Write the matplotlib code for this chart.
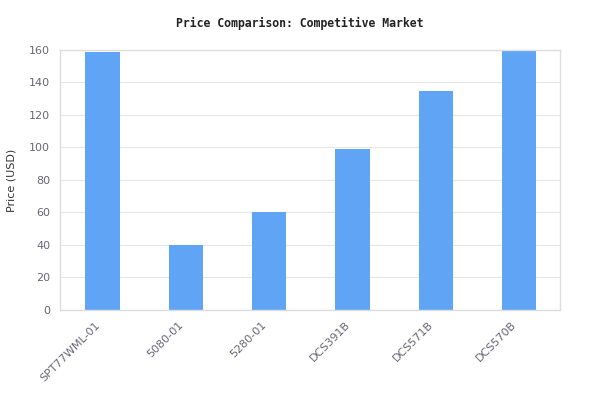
import matplotlib
matplotlib.use("Agg")
import matplotlib.pyplot as plt
import numpy as np

models = ["SPT77WML-01", "5080-01", "5280-01", "DCS391B", "DCS571B", "DCS570B"]
prices = [158.99, 39.99, 59.99, 98.99, 134.99, 159.99]

fig = plt.figure(figsize=(6, 4.2), dpi=100)
ax = fig.add_axes([0.1, 0.262, 0.8333, 0.619])

x = np.arange(len(models))
ax.bar(x + 0.01, prices, width=0.41, color="#60a5f5", zorder=2)

ax.set_xlim(-0.5, len(models) - 0.5)
ax.set_ylim(0, 160)
ax.set_yticks(np.arange(0, 161, 20))
ax.set_xticks(x)
ax.set_xticklabels([])

# rotated category labels, placed a bit left of each tick
for i, name in enumerate(models):
    ax.annotate(name, xy=(i, 0), xycoords=("data", "axes fraction"),
                xytext=(-5, -7), textcoords="offset points",
                rotation=45, rotation_mode="anchor", ha="right", va="top",
                fontsize=8, color="#666677")

ax.grid(axis="y", color="#e6e6e6", linewidth=0.8, zorder=0)
for s in ax.spines.values():
    s.set_color("#dddddd")
    s.set_linewidth(1)
ax.tick_params(axis="both", length=0, labelsize=8, colors="#666677", pad=7)

ax.set_ylabel("Price (USD)", fontsize=8, color="#333333", labelpad=9)
fig.text(0.5, 0.945, "Price Comparison: Competitive Market", ha="center", va="center",
         fontsize=8.3, fontweight="bold", family="DejaVu Sans Mono", color="#222222")

fig.savefig("out.png", dpi=100)
